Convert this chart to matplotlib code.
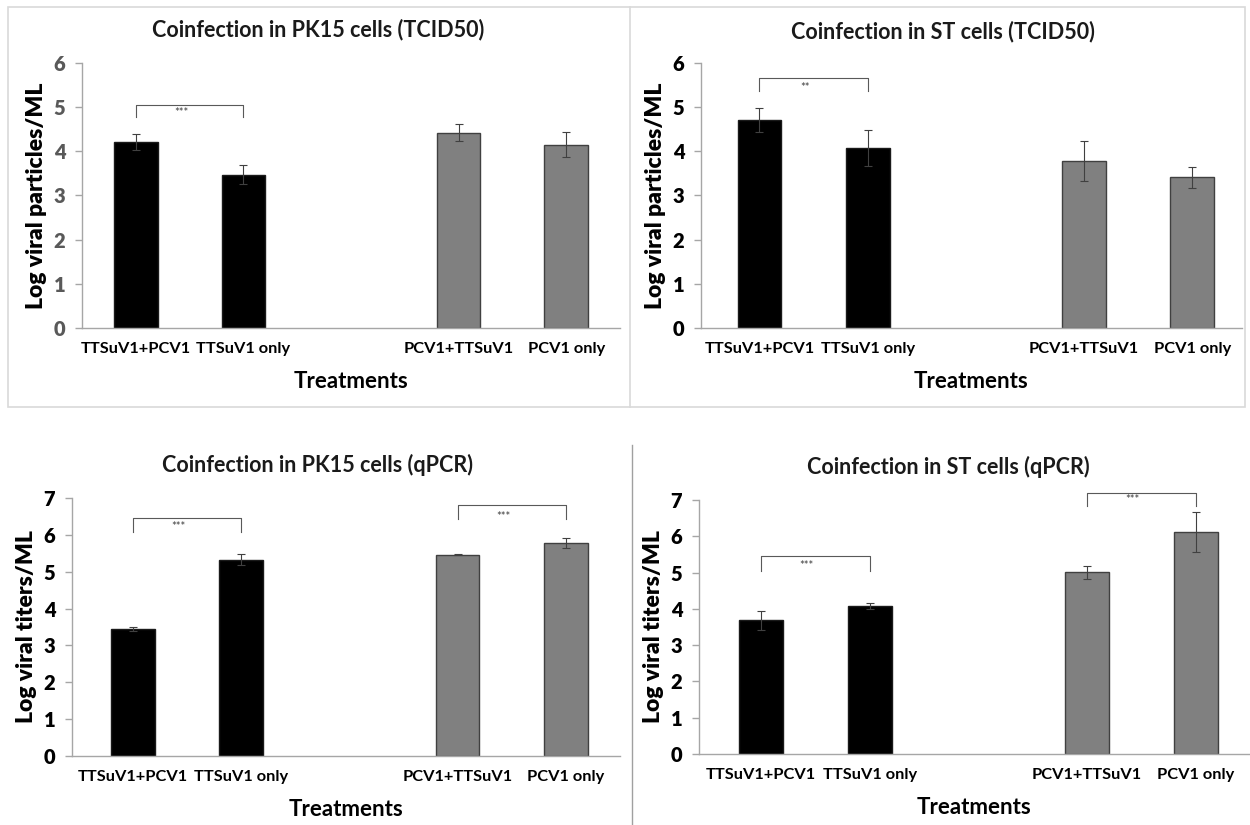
import matplotlib
matplotlib.use('Agg')
import matplotlib.pyplot as plt
from matplotlib.lines import Line2D
from matplotlib.patches import Rectangle

plt.rcParams['font.family'] = ['Lato', 'DejaVu Sans']

categories = ["TTSuV1+PCV1", "TTSuV1 only", "PCV1+TTSuV1", "PCV1 only"]

# panel data: mean log titre and error
pk15_tcid50 = [4.21, 3.47, 4.42, 4.15]
pk15_tcid50_err = [0.18, 0.22, 0.19, 0.28]
st_tcid50 = [4.71, 4.07, 3.78, 3.41]
st_tcid50_err = [0.27, 0.40, 0.45, 0.24]
pk15_qpcr = [3.44, 5.33, 5.46, 5.78]
pk15_qpcr_err = [0.05, 0.15, 0.02, 0.13]
st_qpcr = [3.68, 4.07, 5.01, 6.12]
st_qpcr_err = [0.26, 0.08, 0.18, 0.56]

# significance brackets: (bar a, bar b, label, bracket top, leg bottom, label y)
pk15_tcid50_sig = [(0, 1, "***", 5.05, 4.78, 4.87)]
st_tcid50_sig = [(0, 1, "**", 5.66, 5.35, 5.45)]
pk15_qpcr_sig = [(0, 1, "***", 6.46, 6.08, 6.23), (2, 3, "***", 6.80, 6.44, 6.50)]
st_qpcr_sig = [(0, 1, "***", 5.46, 5.05, 5.20), (2, 3, "***", 7.20, 6.84, 7.00)]

W, H = 1250, 825
fig = plt.figure(figsize=(W / 100, H / 100), dpi=100)
fig.patch.set_facecolor('white')

xpos = [0, 1, 3, 4]
bar_colors = ['#000000', '#000000', '#808080', '#808080']
edge_colors = ['#1a1a1a', '#1a1a1a', '#404040', '#404040']


def px_rect(left, right, top, bottom):
    return [left / W, 1 - bottom / H, (right - left) / W, (bottom - top) / H]


def panel(rect, xlim, ymax, vals, errs, sigs, title, title_xy, ylabel, tick_color):
    ax = fig.add_axes(rect)
    ax.bar(xpos, vals, width=0.405, color=bar_colors, edgecolor=edge_colors,
           linewidth=1.0, zorder=2)
    ax.errorbar(xpos, vals, yerr=errs, fmt='none', ecolor='#404040',
                elinewidth=0.8, capsize=3, capthick=0.8, zorder=3)
    for a, b, lab, top, leg, ty in sigs:
        xa, xb = xpos[a], xpos[b]
        ax.plot([xa, xa, xb, xb], [leg, top, top, leg], color='#595959',
                lw=0.8, clip_on=False, zorder=3)
        ax.text((xa + xb) / 2 - 0.08, ty, lab, ha='center', va='center',
                fontsize=8, color='#404040', clip_on=False)
    ax.set_xlim(*xlim)
    ax.set_ylim(0, ymax)
    ax.set_yticks(range(0, ymax + 1))
    ax.set_xticks(xpos)
    ax.set_xticklabels(categories, fontsize=11.8, fontweight='bold')
    ax.tick_params(axis='x', length=0, pad=10)
    ax.tick_params(axis='y', length=5, width=1, color='#a6a6a6', pad=7,
                   labelsize=14.5, labelcolor=tick_color)
    for t in ax.get_yticklabels():
        t.set_fontweight('heavy')
    for s in ['top', 'right']:
        ax.spines[s].set_visible(False)
    for s in ['left', 'bottom']:
        ax.spines[s].set_color('#a6a6a6')
        ax.spines[s].set_linewidth(1.0)
    ax.set_ylabel(ylabel, fontsize=16.5, fontweight='heavy')
    width_px = rect[2] * W
    ax.yaxis.set_label_coords(-35 / width_px, 0.5)
    ax.set_xlabel('Treatments', fontsize=16, fontweight='bold', labelpad=11)
    fig.text(title_xy[0] / W, 1 - title_xy[1] / H, title, ha='center', va='center',
             fontsize=15.5, fontweight='bold', color='#1a1a1a')
    return ax


panel(px_rect(82, 620, 62.7, 328), (-0.5, 4.5), 6, pk15_tcid50, pk15_tcid50_err,
      pk15_tcid50_sig, 'Coinfection in PK15 cells (TCID50)', (318, 30),
      'Log viral particles/ML', '#595959')
panel(px_rect(701, 1242, 62.7, 328), (-0.54, 4.46), 6, st_tcid50, st_tcid50_err,
      st_tcid50_sig, 'Coinfection in ST cells (TCID50)', (943, 32),
      'Log viral particles/ML', '#000000')
panel(px_rect(72, 620, 498, 756), (-0.56, 4.5), 7, pk15_qpcr, pk15_qpcr_err,
      pk15_qpcr_sig, 'Coinfection in PK15 cells (qPCR)', (317, 465),
      'Log viral titers/ML', '#000000')
panel(px_rect(699, 1249, 500, 754), (-0.57, 4.49), 7, st_qpcr, st_qpcr_err,
      st_qpcr_sig, 'Coinfection in ST cells (qPCR)', (948, 467),
      'Log viral titers/ML', '#000000')

# frames around the panels
fig.add_artist(Rectangle((8 / W, 1 - 407 / H), (1245 - 8) / W, (407 - 7) / H,
                         transform=fig.transFigure, fill=False,
                         edgecolor='#d9d9d9', linewidth=1.2))
fig.add_artist(Line2D([630 / W, 630 / W], [1 - 7 / H, 1 - 407 / H],
                      transform=fig.transFigure, color='#d9d9d9', linewidth=1.2))
fig.add_artist(Line2D([632 / W, 632 / W], [1 - 445 / H, 0],
                      transform=fig.transFigure, color='#a0a0a0', linewidth=1.0))

fig.savefig('out.png', dpi=100)
